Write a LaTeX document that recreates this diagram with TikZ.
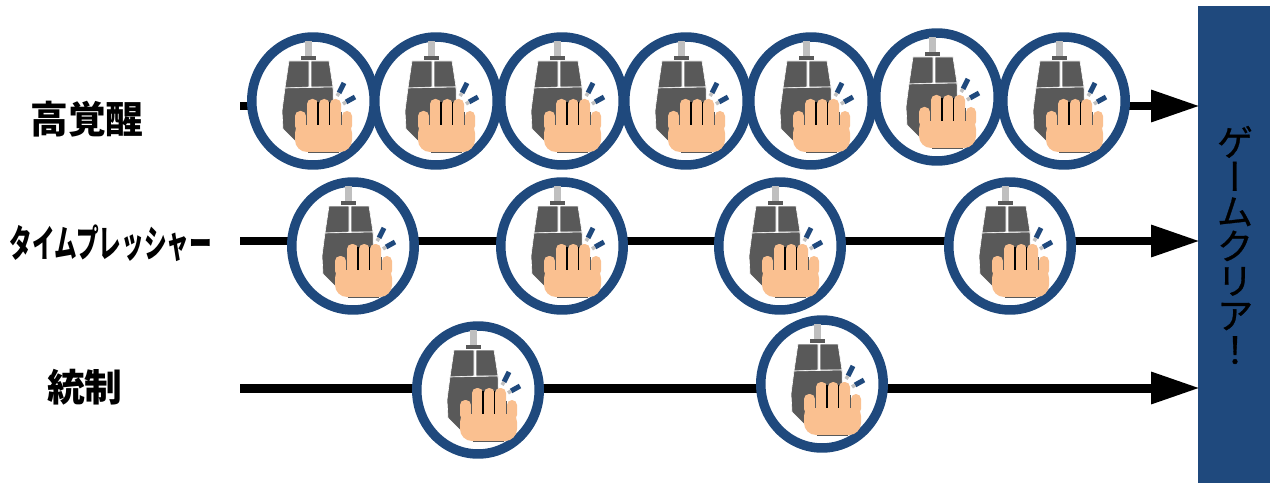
\documentclass[tikz,border=0pt]{standalone}
\usepackage{graphicx}
\usepackage{fontspec}
\newfontfamily\jpfont{Noto Sans CJK JP}
\newfontfamily\jpvert[RawFeature=+vert,FakeBold=.8]{Noto Sans CJK JP}
\usepackage{tikz}
\usetikzlibrary{shapes.geometric,arrows.meta}
\definecolor{ringblue}{HTML}{1F497D}
\definecolor{mousegray}{HTML}{595959}
\definecolor{cablegray}{HTML}{BFBFBF}
\definecolor{handskin}{HTML}{FAC090}
\tikzset{
	mouseicon/.pic={
		\fill[cablegray] (-8,-60) rectangle (-1,-44);
		\fill[mousegray] (-12,-45) rectangle (3,-41);
		\filldraw[fill=mousegray,draw=white,line width=.012cm] (-24,-40) -- (-4,-40) -- (-4,-14) -- (-28,-13) -- cycle;
		\filldraw[fill=mousegray,draw=white,line width=.012cm] (-2,-40) -- (16,-40) -- (20,-14) -- (-2,-14) -- cycle;
		\filldraw[fill=mousegray,draw=white,line width=.012cm] (-28,-13) -- (20,-14) -- (21,30) -- (-15,43) -- (-30,28) -- (-31,10) -- cycle;
		\fill[handskin,rounded corners=.1cm] (-18,10) rectangle (-7,30);
		\fill[handskin,rounded corners=.1cm] (-6,-2) rectangle (5,30);
		\fill[handskin,rounded corners=.1cm] (6,-2) rectangle (16.5,30);
		\fill[handskin,rounded corners=.1cm] (17,-2) rectangle (28,30);
		\fill[handskin,rounded corners=.1cm] (29,10) rectangle (39,30);
		\fill[handskin,rounded corners=.24cm] (-18,20) rectangle (39,51);
		\draw[black,line width=.03cm] (5,1) -- (5,24);
		\draw[black,line width=.03cm] (16.5,1) -- (16.5,24);
		\draw[mousegray,line width=.02cm] (-6.5,11) -- (-6.5,24);
		\draw[mousegray,line width=.02cm] (28.5,11) -- (28.5,24);
		\draw[mousegray,line width=.012cm] (-5,51) -- (26,51);
		\draw[ringblue,line width=.1cm] (31,-18) -- (26,-8);
		\draw[cablegray,line width=.07cm] (26,-8) -- (24,-5);
		\draw[ringblue,line width=.1cm] (42,-4) -- (33,1);
		\draw[cablegray,line width=.07cm] (33,1) -- (30,3);
	}
}
\begin{document}
\begin{tikzpicture}[x=.02cm,y=-.02cm]
	\tikzstyle{ring} = [ellipse, draw=ringblue, line width=.19cm, fill=white, minimum width=2.45cm, minimum height=2.56cm, inner sep=0pt];
	\tikzstyle{timeline} = [draw=black, line width=.18cm, -{Triangle[length=.98cm,width=.6cm]}, shorten >=-.05cm];
	\tikzstyle{rowlabel} = [font=\jpfont\bfseries\fontsize{21.5}{21.5}\selectfont, inner sep=0pt];
	\useasboundingbox (0,0) rectangle (1272,483);
	
	\node[fill=ringblue, minimum width=1.44cm, minimum height=9.54cm, inner sep=0pt] (goal) at (1234,244.5) {};
	\node[inner sep=0pt, align=center, font=\jpvert\fontsize{21}{19.7}\selectfont] (goaltext) at (1235,245) {ゲ\\ー\\ム\\ク\\リ\\ア\\！};
	
	\node[rowlabel] (high) at (87,119) {高覚醒};
	\node[rowlabel] (time) at (111,243) {\scalebox{.6}[1]{タイムプレッシャー}};
	\node[rowlabel] (ctrl) at (85,387) {統制};
	
	\coordinate (S1) at (240,106);
	\coordinate (S2) at (240,241);
	\coordinate (S3) at (240,388);
	\path (S1) edge[timeline] (S1 -| goal.west);
	\path (S2) edge[timeline] (S2 -| goal.west);
	\path (S3) edge[timeline] (S3 -| goal.west);
	
	\foreach \nm/\px/\py in {H1/313/101,H2/436/101,H3/562/101,H4/686/101,H5/811/101,H6/937/97,H7/1064/101,
		T1/353/246,T2/562/246,T3/780/246,T4/1010/246,
		C1/478/390,C2/822/384}{
		\node[ring] (\nm) at (\px,\py) {};
		\pic at (\nm) {mouseicon};
	}
\end{tikzpicture}
\end{document}
